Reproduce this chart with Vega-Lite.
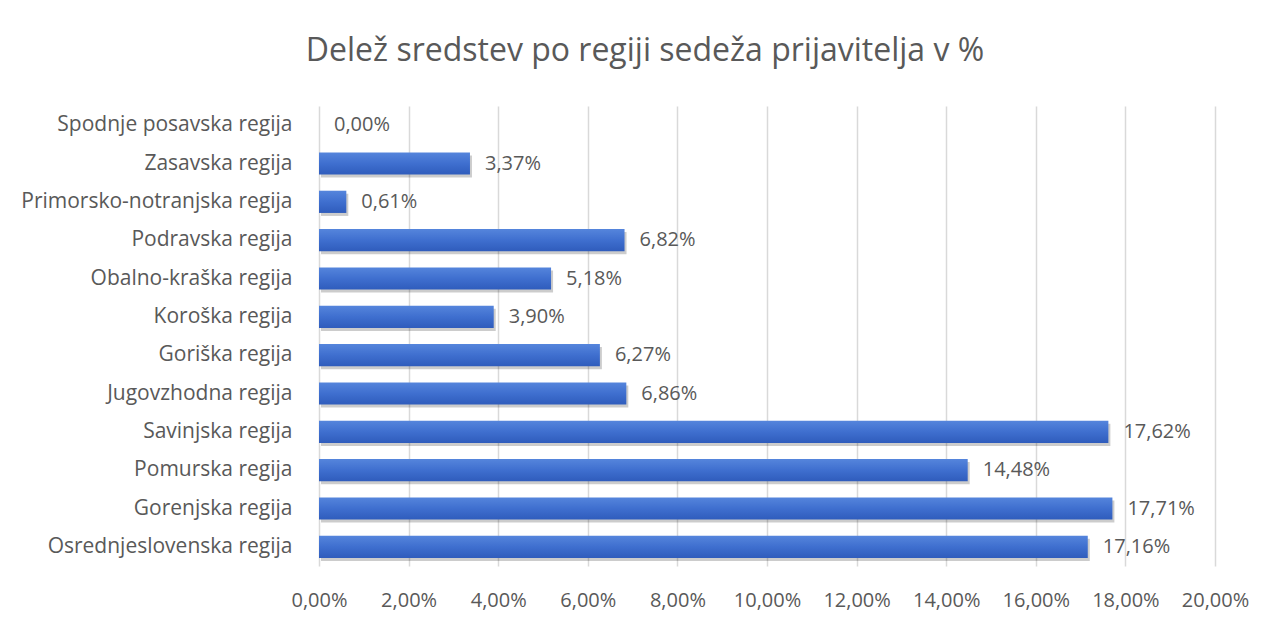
{
  "$schema": "https://vega.github.io/schema/vega-lite/v6.json",
  "autosize": "none",
  "width": 896,
  "height": 460,
  "padding": {"left": 319, "top": 106, "right": 56, "bottom": 56},
  "background": "white",
  "config": {
    "locale": {"number": {"decimal": ",", "thousands": ".", "grouping": [3], "currency": ["", " €"]}},
    "view": {"stroke": null},
    "font": "Open Sans"
  },
  "title": {
    "text": "Delež sredstev po regiji sedeža prijavitelja v %",
    "fontSize": 32,
    "font": "Open Sans",
    "fontWeight": "normal",
    "color": "#595959",
    "anchor": "middle",
    "dx": -122,
    "offset": 38
  },
  "data": {
    "values": [
      {"regija": "Spodnje posavska regija", "delez": 0.0},
      {"regija": "Zasavska regija", "delez": 0.0337},
      {"regija": "Primorsko-notranjska regija", "delez": 0.0061},
      {"regija": "Podravska regija", "delez": 0.0682},
      {"regija": "Obalno-kraška regija", "delez": 0.0518},
      {"regija": "Koroška regija", "delez": 0.039},
      {"regija": "Goriška regija", "delez": 0.0627},
      {"regija": "Jugovzhodna regija", "delez": 0.0686},
      {"regija": "Savinjska regija", "delez": 0.1762},
      {"regija": "Pomurska regija", "delez": 0.1448},
      {"regija": "Gorenjska regija", "delez": 0.1771},
      {"regija": "Osrednjeslovenska regija", "delez": 0.1716}
    ]
  },
  "encoding": {
    "y": {
      "field": "regija",
      "type": "nominal",
      "sort": null,
      "title": null,
      "scale": {"paddingInner": 0.42, "paddingOuter": 0.21},
      "axis": {
        "ticks": false,
        "domain": false,
        "labelFontSize": 21,
        "labelColor": "#595959",
        "labelPadding": 27,
        "labelFont": "Open Sans",
        "labelLimit": 320
      }
    },
    "x": {
      "field": "delez",
      "type": "quantitative",
      "title": null,
      "scale": {"domain": [0, 0.2], "nice": false},
      "axis": {
        "format": ".2%",
        "values": [0, 0.02, 0.04, 0.06, 0.08, 0.1, 0.12, 0.14, 0.16, 0.18, 0.2],
        "labelOverlap": false,
        "labelFlush": false,
        "labelBound": false,
        "ticks": false,
        "domain": false,
        "grid": true,
        "gridColor": "#d9d9d9",
        "gridWidth": 1.5,
        "labelFontSize": 20,
        "labelColor": "#595959",
        "labelPadding": 24,
        "labelFont": "Open Sans"
      }
    }
  },
  "layer": [
    {
      "mark": {"type": "bar", "color": "#000000", "opacity": 0.2, "yOffset": 3, "xOffset": 2},
      "encoding": {}
    },
    {
      "mark": {
        "type": "bar",
        "color": {
          "gradient": "linear",
          "x1": 0, "y1": 0, "x2": 0, "y2": 1,
          "stops": [
            {"offset": 0, "color": "#5585dc"},
            {"offset": 0.5, "color": "#3f6fcf"},
            {"offset": 1, "color": "#2f5cbc"}
          ]
        }
      },
      "encoding": {}
    },
    {
      "mark": {"type": "text", "align": "left", "baseline": "middle", "dx": 15, "fontSize": 20, "color": "#595959", "font": "Open Sans"},
      "encoding": {
        "text": {"field": "delez", "type": "quantitative", "format": ".2%"}
      }
    }
  ]
}
